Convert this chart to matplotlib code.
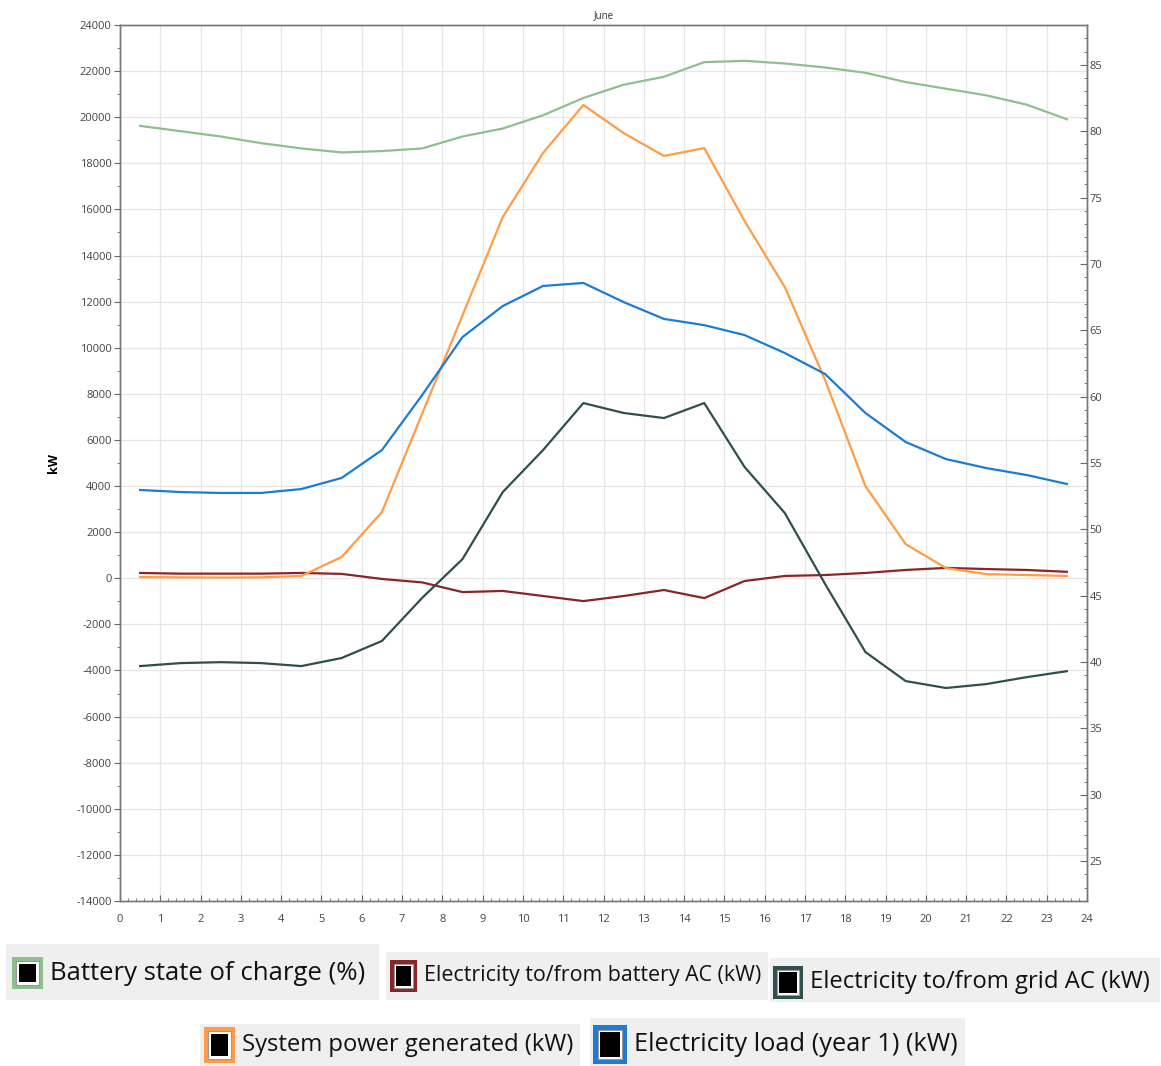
import numpy as np
import matplotlib.pyplot as plt
from matplotlib.patches import Rectangle
from matplotlib.ticker import MultipleLocator

plt.rcParams['font.family'] = ['Open Sans', 'DejaVu Sans']
plt.rcParams['axes.unicode_minus'] = False

# hourly averages for June
hours = np.arange(0.5, 24, 1.0)

battery_soc = [80.4, 80.0, 79.6, 79.1, 78.7, 78.4, 78.5, 78.7, 79.6, 80.2, 81.2, 82.5,
               83.5, 84.1, 85.2, 85.3, 85.1, 84.8, 84.4, 83.7, 83.2, 82.7, 82.0, 80.9]
battery_ac = [230, 200, 200, 200, 230, 190, -30, -180, -600, -550, -770, -990,
              -770, -510, -860, -120, 100, 140, 230, 360, 450, 400, 360, 280]
grid_ac = [-3810, -3680, -3640, -3680, -3810, -3460, -2720, -850, 830, 3740, 5560, 7600,
           7170, 6950, 7600, 4830, 2830, -250, -3200, -4460, -4760, -4590, -4290, -4030]
system_power = [50, 40, 30, 40, 100, 920, 2870, 7140, 11400, 15670, 18450, 20530,
                19310, 18320, 18660, 15500, 12630, 8600, 4000, 1480, 440, 180, 140, 100]
load = [3830, 3740, 3700, 3700, 3870, 4350, 5560, 7950, 10460, 11810, 12680, 12810,
        11980, 11250, 10980, 10550, 9770, 8860, 7170, 5910, 5170, 4780, 4480, 4090]

c_soc = '#8fbf8f'
c_batt = '#8b2525'
c_grid = '#2f4f4f'
c_sys = '#ff9c45'
c_load = '#1c7cd5'

W, H = 1161, 1066
fig = plt.figure(figsize=(W / 100, H / 100), dpi=100)


def fbox(x0, y0, x1, y1):
    # pixel box (top-left origin) -> figure fraction rect
    return (x0 / W, 1 - y1 / H, (x1 - x0) / W, (y1 - y0) / H)


def add_rect(box, **kw):
    r = fbox(*box)
    fig.add_artist(Rectangle(r[:2], r[2], r[3], transform=fig.transFigure, **kw))


ax = fig.add_axes(fbox(120, 25, 1087, 901))
ax2 = ax.twinx()

ax.plot(hours, battery_ac, color=c_batt, lw=1.6)
ax.plot(hours, grid_ac, color=c_grid, lw=1.6)
ax.plot(hours, system_power, color=c_sys, lw=1.6)
ax.plot(hours, load, color=c_load, lw=1.6)
ax2.plot(hours, battery_soc, color=c_soc, lw=1.6)

ax.set_xlim(0, 24)
ax.set_ylim(-14000, 24000)
ax2.set_ylim(22, 88)

ax.xaxis.set_major_locator(MultipleLocator(1))
ax.xaxis.set_minor_locator(MultipleLocator(0.2))
ax.yaxis.set_major_locator(MultipleLocator(2000))
ax.yaxis.set_minor_locator(MultipleLocator(1000))
ax2.set_yticks(range(25, 90, 5))
ax2.yaxis.set_minor_locator(MultipleLocator(1))

ax.grid(True, which='major', color='#e6e6e6', lw=0.9)
ax.set_axisbelow(True)

tick_col = '#444444'
ax.tick_params(axis='x', which='both', direction='in', colors='#666666',
               labelcolor=tick_col, labelsize=8, pad=9)
ax.tick_params(axis='x', which='major', length=4)
ax.tick_params(axis='x', which='minor', length=2)
ax.tick_params(axis='y', which='both', direction='out', colors='#666666',
               labelcolor=tick_col, labelsize=8, pad=2)
ax.tick_params(axis='y', which='major', length=4)
ax.tick_params(axis='y', which='minor', length=2)
ax2.tick_params(axis='y', which='both', direction='in', colors='#666666',
                labelcolor=tick_col, labelsize=8, pad=2)
ax2.tick_params(axis='y', which='major', length=5)
ax2.tick_params(axis='y', which='minor', length=2)

for a in (ax, ax2):
    for s in a.spines.values():
        s.set_color('#777777')
        s.set_linewidth(1.0)

ax.set_ylabel('kW', fontsize=9, fontweight='bold', labelpad=12)
ax.set_title('June', fontsize=7, color='#333333', pad=5)

# legend boxes drawn below the axes
legend_items = [
    ('Battery state of charge (%)', c_soc, (6, 944, 379, 1000), (12, 957, 43, 989), 316),
    ('Electricity to/from battery AC (kW)', c_batt, (386, 952, 768, 1000), (390, 960, 417, 992), 337),
    ('Electricity to/from grid AC (kW)', c_grid, (770, 958, 1160, 1002), (773, 966, 803, 999), 340),
    ('System power generated (kW)', c_sys, (200, 1024, 580, 1066), (204, 1027, 235, 1063), 332),
    ('Electricity load (year 1) (kW)', c_load, (590, 1018, 965, 1066), (593, 1025, 627, 1064), 324),
]

renderer = fig.canvas.get_renderer()
for label, col, bg, sw, tw in legend_items:
    add_rect(bg, facecolor='#efefef', edgecolor='none')
    x0, y0, x1, y1 = sw
    add_rect(sw, facecolor=col, edgecolor='none')
    d = (x1 - x0) * 0.14
    add_rect((x0 + d, y0 + d, x1 - d, y1 - d), facecolor='white', edgecolor='#999999', lw=0.8)
    d2 = (x1 - x0) * 0.21
    add_rect((x0 + d2, y0 + d2, x1 - d2, y1 - d2), facecolor='black', edgecolor='none')
    t = fig.text((x1 + 7) / W, 1 - ((y0 + y1) / 2) / H, label, fontsize=16,
                 va='center', ha='left', color='#111111')
    w = t.get_window_extent(renderer).width
    t.set_fontsize(16 * tw / w)

fig.savefig('out.png', dpi=100)
